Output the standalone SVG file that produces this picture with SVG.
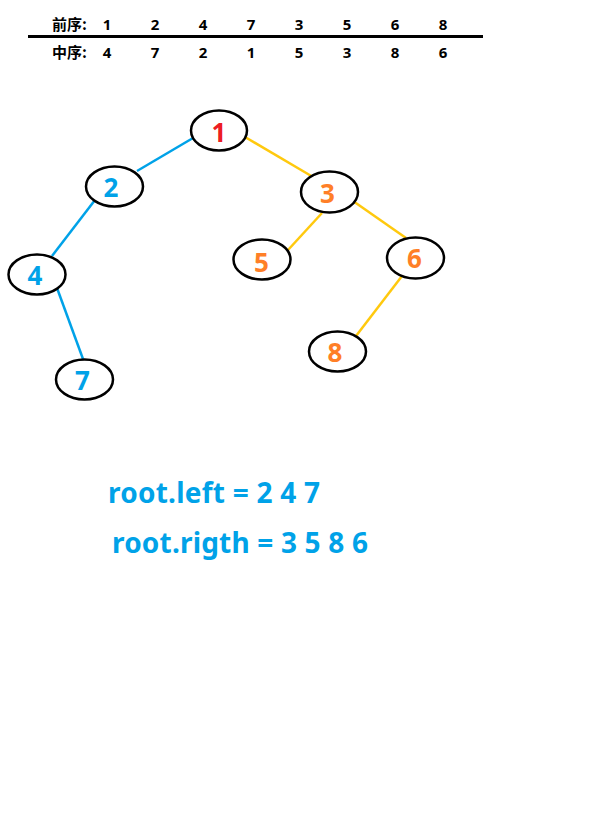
<svg xmlns="http://www.w3.org/2000/svg" width="602" height="826" viewBox="0 0 602 826">
<style>
.hdr{font-family:"Noto Sans CJK SC","Noto Sans",sans-serif;font-weight:bold;font-size:15px;fill:#000}
.num{font-family:"Noto Sans","Liberation Sans",sans-serif;font-weight:bold;font-size:15px;fill:#000;text-anchor:middle}
.node ellipse{fill:#fff;stroke:#000;stroke-width:2.5}
.node text{font-family:"Noto Sans","Liberation Sans",sans-serif;font-weight:bold;font-size:26px;text-anchor:middle}
.b{stroke:#00A2E8;stroke-width:2.5}
.y{stroke:#FFC90E;stroke-width:2.5}
.big{font-family:"Noto Sans","Liberation Sans",sans-serif;font-weight:bold;font-size:28px;fill:#00A2E8}
</style>
<rect width="602" height="826" fill="#fff"/>
<g id="header">
<text class="hdr" x="52" y="30">前序:</text>
<text class="num" x="107" y="30">1</text><text class="num" x="155" y="30">2</text><text class="num" x="203" y="30">4</text><text class="num" x="251" y="30">7</text><text class="num" x="299" y="30">3</text><text class="num" x="347" y="30">5</text><text class="num" x="395" y="30">6</text><text class="num" x="443" y="30">8</text>
<line x1="28" y1="36.5" x2="483" y2="36.5" stroke="#000" stroke-width="3"/>
<text class="hdr" x="52" y="58">中序:</text>
<text class="num" x="107" y="58">4</text><text class="num" x="155" y="58">7</text><text class="num" x="203" y="58">2</text><text class="num" x="251" y="58">1</text><text class="num" x="299" y="58">5</text><text class="num" x="347" y="58">3</text><text class="num" x="395" y="58">8</text><text class="num" x="443" y="58">6</text>
</g>
<g id="connectors">
<line class="b" x1="193" y1="138" x2="137" y2="171"/>
<line class="b" x1="95" y1="200" x2="52" y2="256"/>
<line class="b" x1="57" y1="288" x2="83" y2="359"/>
<line class="y" x1="245" y1="137" x2="313" y2="177"/>
<line class="y" x1="322" y1="213" x2="288" y2="250"/>
<line class="y" x1="353" y1="201" x2="406" y2="238"/>
<line class="y" x1="402" y1="276" x2="356" y2="336"/>
</g>
<g id="n1" class="node"><ellipse cx="219" cy="130.5" rx="28" ry="20"/><text x="219" y="142" fill="#ED1C24">1</text></g>
<g id="n2" class="node"><ellipse cx="114.5" cy="186.5" rx="28.5" ry="20"/><text x="111" y="197" fill="#00A2E8">2</text></g>
<g id="n4" class="node"><ellipse cx="37" cy="274.5" rx="28.5" ry="20"/><text x="35" y="285" fill="#00A2E8">4</text></g>
<g id="n7" class="node"><ellipse cx="84.5" cy="379.5" rx="28.5" ry="20"/><text x="82.5" y="390" fill="#00A2E8">7</text></g>
<g id="n3" class="node"><ellipse cx="329.5" cy="192" rx="28.5" ry="20.5"/><text x="327.5" y="203" fill="#FF7F27">3</text></g>
<g id="n5" class="node"><ellipse cx="262" cy="259.5" rx="28.5" ry="20"/><text x="261.5" y="272" fill="#FF7F27">5</text></g>
<g id="n6" class="node"><ellipse cx="415.5" cy="258" rx="28.5" ry="20.5"/><text x="414.5" y="268" fill="#FF7F27">6</text></g>
<g id="n8" class="node"><ellipse cx="337.5" cy="351.5" rx="28.5" ry="20"/><text x="335" y="362" fill="#FF7F27">8</text></g>
<g id="labels">
<text class="big" x="108" y="503" textLength="212" lengthAdjust="spacing">root.left = 2 4 7</text>
<text class="big" x="112" y="553" textLength="256" lengthAdjust="spacing">root.rigth = 3 5 8 6</text>
</g>
</svg>
